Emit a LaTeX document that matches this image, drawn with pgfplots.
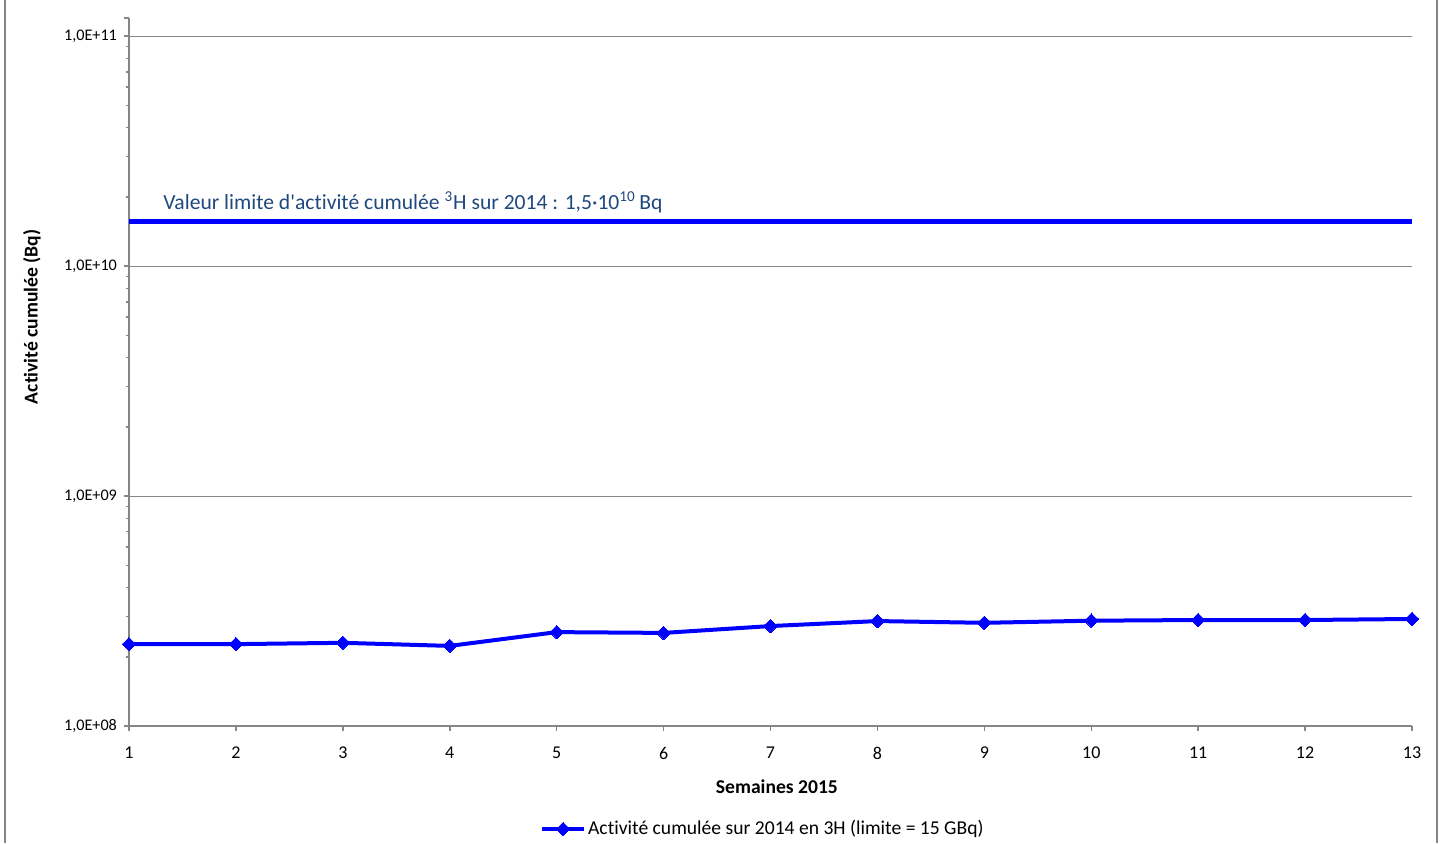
\documentclass[border=0pt]{standalone}
\usepackage{pgfplots}
\pgfplotsset{compat=1.18}
\usepackage{fontspec}
\setmainfont{Carlito}[Ligatures={NoCommon}]
\definecolor{axgray}{RGB}{134,134,134}
\definecolor{annot}{RGB}{31,73,125}
\definecolor{serblue}{RGB}{0,0,255}
\begin{document}
\begin{tikzpicture}
\useasboundingbox (0,0) rectangle (720pt,421.5pt);
\draw[axgray, line width=0.8pt] (2.4pt,0) -- (2.4pt,421.5pt);
\draw[axgray, line width=0.8pt] (718.6pt,0) -- (718.6pt,421.5pt);
\begin{axis}[
  at={(64.5pt,58.5pt)}, anchor=south west,
  scale only axis, width=641.5pt, height=354pt,
  ymode=log, ymin=1e8, ymax=1.2e11,
  xmin=1, xmax=13,
  xtick={1,2,3,4,5,6,7,8,9,10,11,12,13},
  ytick={1e8,1e9,1e10,1e11},
  yticklabels={{1,0E+08},{1,0E+09},{1,0E+10},{1,0E+11}},
  minor ytick={2e8,3e8,4e8,5e8,6e8,7e8,8e8,9e8,2e9,3e9,4e9,5e9,6e9,7e9,8e9,9e9,2e10,3e10,4e10,5e10,6e10,7e10,8e10,9e10},
  extra y ticks={1.2e11}, extra y tick labels={}, extra y tick style={grid=none},
  axis lines*=left,
  axis line style={axgray, line width=0.75pt},
  tick style={axgray, line width=0.75pt},
  tick align=outside,
  major tick length=2.5pt, minor tick length=1.5pt,
  ymajorgrids, major grid style={axgray, line width=0.5pt},
  tick label style={font=\fontsize{9}{10}\selectfont, black},
  xticklabel style={yshift=-4.5pt},
  yticklabel style={font=\fontsize{8.1}{9}\selectfont},
  /pgf/number format/assume math mode=true,
  xlabel={Semaines 2015},
  xlabel style={font=\fontsize{9.8}{11}\selectfont\bfseries, at={(axis description cs:0.505,-0.0862)}, anchor=center},
  ylabel={Activité cumulée (Bq)},
  ylabel style={font=\fontsize{9.8}{11}\selectfont\bfseries, at={(axis description cs:-0.0756,0.578)}, anchor=center, rotate=0},
  legend style={at={(axis description cs:0.494,-0.1455)}, anchor=center, draw=none, fill=none, font=\fontsize{9.8}{11}\selectfont, inner sep=0pt, nodes={inner xsep=1pt}},
  legend cell align=left,
  legend image code/.code={\draw[mark repeat=2,mark phase=2,#1] plot coordinates {(0pt,0pt)(10.5pt,0pt)(21pt,0pt)};},
]
\addplot[serblue, line width=2.3pt, forget plot] coordinates {(1,1.56e10) (13,1.56e10)};
\addplot[serblue, line width=2pt, mark=square*, mark size=2.4pt, mark options={rotate=45, solid, fill=serblue, line width=0pt}] coordinates {
(1,2.27e8) (2,2.27e8) (3,2.30e8) (4,2.23e8) (5,2.56e8) (6,2.54e8) (7,2.72e8)
(8,2.86e8) (9,2.81e8) (10,2.87e8) (11,2.89e8) (12,2.89e8) (13,2.92e8)};
\addlegendentry{Activité cumulée sur 2014 en 3H (limite = 15 GBq)}
\end{axis}
\node[anchor=base west, inner sep=0pt, text=annot, font=\fontsize{10.8}{12}\selectfont] at (81.5pt,317pt) {Valeur limite d\textquotesingle activité cumulée \textsuperscript{3}H sur 2014 : 1,5·10\textsuperscript{10}\,Bq};
\end{tikzpicture}
\end{document}
